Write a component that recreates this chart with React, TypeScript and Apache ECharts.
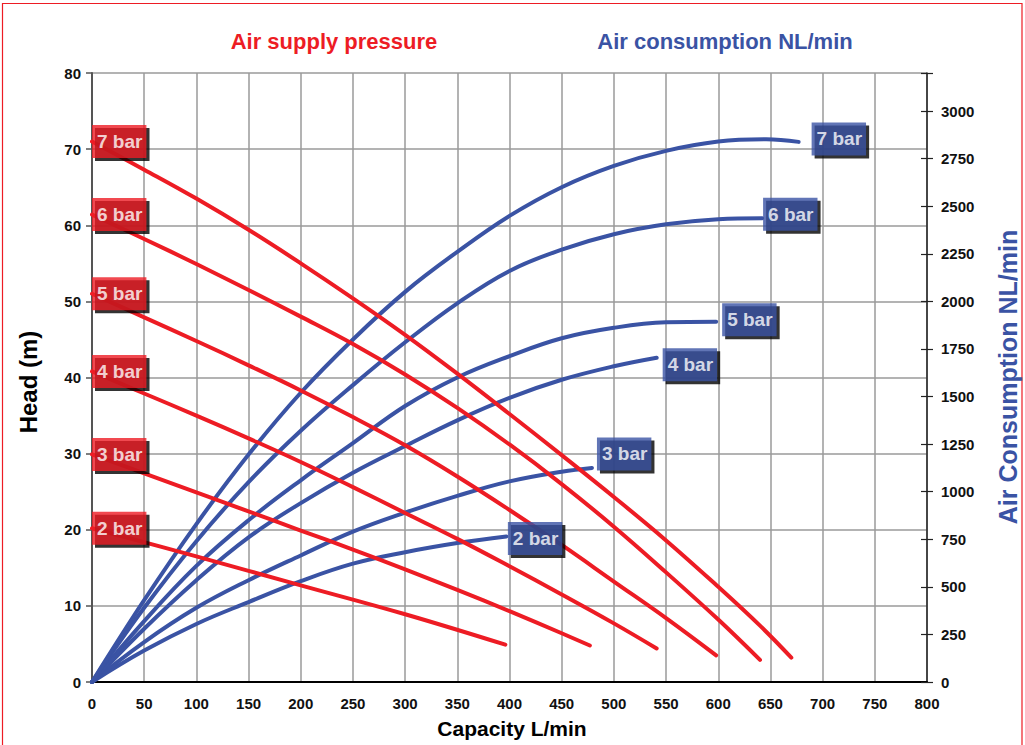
import React, { useEffect, useRef } from "react";
import * as echarts from "echarts";

// ---------- data ----------
const pressures = ["2 bar", "3 bar", "4 bar", "5 bar", "6 bar", "7 bar"];

// Head (m) vs capacity (L/min), per air supply pressure
const head2: number[][] = [[0, 20.2], [100, 16.5], [200, 12.7], [300, 8.9], [396, 4.9]];
const head3: number[][] = [[0, 29.9], [50, 27.4], [100, 24.9], [150, 22.4], [200, 19.9], [250, 17.4], [300, 14.8], [350, 12.1], [400, 9.3], [450, 6.4], [477, 4.8]];
const head4: number[][] = [[0, 40.8], [50, 37.9], [100, 35], [150, 32], [200, 28.9], [250, 25.6], [300, 22.2], [350, 18.8], [400, 15.2], [450, 11.5], [500, 7.7], [541, 4.4]];
const head5: number[][] = [[0, 51], [50, 47.9], [100, 44.8], [150, 41.6], [200, 38.3], [250, 34.8], [300, 31.1], [350, 27], [400, 22.6], [450, 18], [500, 13.2], [550, 8.4], [598, 3.5]];
const head6: number[][] = [[0, 61.4], [50, 58.2], [100, 54.9], [150, 51.5], [200, 48], [250, 44.4], [300, 40.4], [350, 36], [400, 31.2], [450, 26], [500, 20.4], [550, 14.4], [600, 8.2], [640, 2.9]];
const head7: number[][] = [[0, 71], [50, 67.3], [100, 63.5], [150, 59.4], [200, 55], [250, 50.4], [300, 45.6], [350, 40.5], [400, 35.2], [450, 29.8], [500, 24.3], [550, 18.6], [600, 12.5], [640, 7.4], [670, 3.2]];

// Air consumption (NL/min) vs capacity (L/min)
const air2: number[][] = [[0, 0], [50, 165], [100, 305], [150, 420], [200, 530], [250, 622], [300, 682], [350, 730], [397, 765]];
const air3: number[][] = [[0, 0], [50, 210], [100, 390], [150, 535], [200, 665], [250, 790], [300, 890], [350, 978], [400, 1054], [450, 1105], [479, 1125]];
const air4: number[][] = [[0, 0], [50, 280], [100, 535], [150, 760], [200, 940], [250, 1100], [300, 1240], [350, 1375], [400, 1493], [450, 1588], [500, 1659], [541, 1704]];
const air5: number[][] = [[0, 0], [50, 320], [100, 610], [150, 850], [200, 1060], [250, 1255], [300, 1450], [350, 1600], [400, 1712], [450, 1806], [500, 1861], [550, 1890], [598, 1893]];
const air6: number[][] = [[0, 0], [50, 390], [100, 740], [150, 1050], [200, 1320], [250, 1560], [300, 1785], [350, 1990], [400, 2160], [450, 2272], [500, 2353], [550, 2405], [600, 2432], [642, 2437]];
const air7: number[][] = [[0, 0], [50, 430], [100, 830], [150, 1195], [200, 1520], [250, 1800], [300, 2050], [350, 2260], [400, 2449], [450, 2600], [500, 2712], [550, 2791], [600, 2840], [646, 2852], [677, 2838]];

const headSeries = [head2, head3, head4, head5, head6, head7];
const airSeries = [air2, air3, air4, air5, air6, air7];

// ---------- styles ----------
const RED = "#ED1C24";
const BLUE = "#3A53A4";
const GRID = "#9a9a9a";
const FONT = "'Liberation Sans', Arial, Helvetica, sans-serif";
const blueLabelOffsets = [[1.5, 2], [5, -14], [6, 7], [6, -2], [1, -4], [13, -3]];
const SHADOW = 3;

const boxLabel = (bg: string) => ({
  show: true,
  position: "right",
  distance: 0,
  formatter: "{b}",
  color: "#fff",
  fontFamily: FONT,
  fontWeight: "bold",
  fontSize: 19,
  lineHeight: 19,
  backgroundColor: bg,
  padding: [7, 4, 7, 5],
});

// plain black box of the same size, drawn under each label as its drop shadow
const shadowBox = {
  show: true,
  position: "right",
  distance: 0,
  formatter: " ",
  color: "rgba(0,0,0,0)",
  fontFamily: FONT,
  fontWeight: "bold",
  fontSize: 19,
  lineHeight: 19,
  width: 45.5,
  height: 19,
  backgroundColor: "#000",
  padding: [7, 4, 7, 5],
};

export default function App() {
  const ref = useRef<HTMLDivElement>(null);

  useEffect(() => {
    if (!ref.current) return;
    const chart = echarts.init(ref.current, undefined, { renderer: "svg" });

    const series: any[] = [];
    airSeries.forEach((d, i) => {
      series.push({
        type: "line",
        name: "air " + pressures[i],
        yAxisIndex: 1,
        data: d,
        smooth: 0.4,
        symbol: "none",
        lineStyle: { color: BLUE, width: 4, cap: "round" },
        z: 2,
      });
    });
    headSeries.forEach((d, i) => {
      series.push({
        type: "line",
        name: "head " + pressures[i],
        yAxisIndex: 0,
        data: d,
        smooth: 0.4,
        symbol: "none",
        lineStyle: { color: RED, width: 4, cap: "round" },
        z: 3,
      });
    });

    const redLabelData = (shadow: boolean) =>
      headSeries.map((d, i) => ({
        name: pressures[i],
        value: d[0],
        label: { offset: shadow ? [SHADOW, SHADOW] : [0, 0] },
      }));
    const blueLabelData = (shadow: boolean) =>
      airSeries.map((d, i) => ({
        name: pressures[i],
        value: d[d.length - 1],
        label: {
          offset: shadow
            ? [blueLabelOffsets[i][0] + SHADOW, blueLabelOffsets[i][1] + SHADOW]
            : blueLabelOffsets[i],
        },
      }));

    series.push({
      type: "scatter", yAxisIndex: 0, symbolSize: 0, z: 9, silent: true,
      data: redLabelData(true), label: shadowBox,
    });
    series.push({
      type: "scatter", yAxisIndex: 1, symbolSize: 0, z: 9, silent: true,
      data: blueLabelData(true), label: shadowBox,
    });
    series.push({
      type: "scatter", yAxisIndex: 0, symbolSize: 0, z: 10, silent: true,
      data: redLabelData(false), label: boxLabel(RED),
    });
    series.push({
      type: "scatter", yAxisIndex: 1, symbolSize: 0, z: 10, silent: true,
      data: blueLabelData(false), label: boxLabel(BLUE),
    });

    const tickLabel = { color: "#111", fontFamily: FONT, fontWeight: "bold", fontSize: 15 };

    chart.setOption({
      animation: false,
      backgroundColor: "#fff",
      textStyle: { fontFamily: FONT },
      grid: { left: 92, right: 98, top: 73, bottom: 63, containLabel: false },
      xAxis: {
        type: "value",
        min: 0,
        max: 800,
        interval: 50,
        axisLine: { show: true, lineStyle: { color: "#000", width: 2 } },
        axisTick: { show: false },
        axisLabel: { ...tickLabel, margin: 14 },
        splitLine: { show: true, lineStyle: { color: GRID, width: 1.5 } },
      },
      yAxis: [
        {
          type: "value",
          min: 0,
          max: 80,
          interval: 10,
          position: "left",
          axisLine: { show: true, lineStyle: { color: "#555", width: 2 } },
          axisTick: { show: true, length: 6, lineStyle: { color: "#555", width: 1.5 } },
          axisLabel: { ...tickLabel, margin: 11 },
          splitLine: { show: true, lineStyle: { color: GRID, width: 1.5 } },
        },
        {
          type: "value",
          min: 0,
          max: 3200,
          interval: 250,
          position: "right",
          axisLine: { show: true, lineStyle: { color: "#222", width: 1.5 } },
          axisTick: { show: true, length: 6, lineStyle: { color: "#222", width: 1.2 } },
          axisLabel: {
            ...tickLabel,
            margin: 14,
            formatter: (v: number) => (v > 3000 ? "" : String(v)),
          },
          splitLine: { show: false },
        },
        {
          type: "value",
          min: 0,
          max: 3200,
          interval: 250,
          position: "right",
          axisLine: { show: false },
          axisTick: { show: true, inside: true, length: 6, lineStyle: { color: "#222", width: 1.2 } },
          axisLabel: { show: false },
          splitLine: { show: false },
        },
      ],
      graphic: [
        {
          type: "rect",
          shape: { x: 2.5, y: 3.5, width: 1019.5, height: 760 },
          style: { fill: "none", stroke: RED, lineWidth: 1.2 },
          silent: true,
        },
        {
          type: "text",
          x: 334,
          y: 41,
          style: { text: "Air supply pressure", fill: RED, font: `bold 22px ${FONT}`, align: "center", verticalAlign: "middle" },
        },
        {
          type: "text",
          x: 725,
          y: 41,
          style: { text: "Air consumption NL/min", fill: BLUE, font: `bold 22px ${FONT}`, align: "center", verticalAlign: "middle" },
        },
        {
          type: "text",
          x: 28,
          y: 382,
          rotation: Math.PI / 2,
          style: { text: "Head (m)", fill: "#000", font: `bold 24px ${FONT}`, align: "center", verticalAlign: "middle" },
        },
        {
          type: "text",
          x: 512,
          y: 728,
          style: { text: "Capacity L/min", fill: "#000", font: `bold 21px ${FONT}`, align: "center", verticalAlign: "middle" },
        },
        {
          type: "text",
          x: 1008,
          y: 377,
          rotation: Math.PI / 2,
          style: { text: "Air Consumption NL/min", fill: BLUE, font: `bold 25px ${FONT}`, align: "center", verticalAlign: "middle" },
        },
      ],
      series,
    });

    return () => chart.dispose();
  }, []);

  return (
    <div
      ref={ref}
      style={{ position: "fixed", left: 0, top: 0, width: 1025, height: 745, background: "#fff" }}
    />
  );
}
